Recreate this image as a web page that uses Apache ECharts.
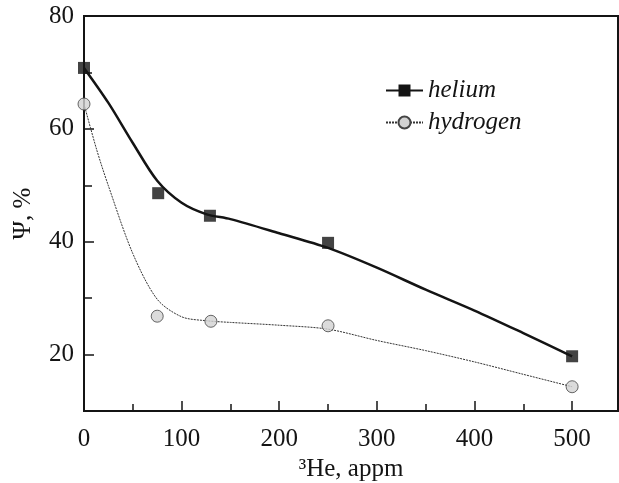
<!DOCTYPE html>
<html>
<head>
<meta charset="utf-8">
<script src="https://cdn.jsdelivr.net/npm/echarts@6/dist/echarts.min.js"></script>
<style>html,body{margin:0;padding:0;background:#fff}#c{width:619px;height:483px}</style>
</head>
<body>
<div id="c"></div>
<script>
// measured points
const heliumX = [0, 76, 129, 250, 500];
const heliumY = [70.8, 48.6, 44.6, 39.8, 19.7];
const hydrogenX = [0, 75, 130, 250, 500];
const hydrogenY = [64.4, 26.8, 25.9, 25.1, 14.3];
// fitted curves as drawn in the picture
const heliumCurveX = [0, 25, 50, 75, 100, 125, 150, 200, 250, 300, 350, 400, 450, 500];
const heliumCurveY = [70.8, 64.6, 57.5, 50.8, 46.9, 44.9, 44.0, 41.5, 38.9, 35.4, 31.5, 27.8, 23.8, 19.7];
const hydrogenCurveX = [0, 13, 25, 50, 75, 100, 125, 150, 200, 250, 300, 350, 400, 450, 500];
const hydrogenCurveY = [64.4, 56.3, 49.9, 37.9, 29.8, 26.7, 26.0, 25.7, 25.2, 24.5, 22.5, 20.7, 18.7, 16.5, 14.3];
const xMajorTicks = [0, 100, 200, 300, 400, 500];
const xMinorTicks = [50, 150, 250, 350, 450];
const yMajorTicks = [20, 40, 60, 80];
const yMinorTicks = [30, 50, 70];

const zip = (a, b) => a.map((v, i) => [v, b[i]]);
const FONT = 'Liberation Serif';
const INK = '#141414';

const chart = echarts.init(document.getElementById('c'), null, {renderer: 'canvas'});
chart.setOption({
  animation: false,
  backgroundColor: '#fff',
  grid: {left: 84, top: 16, right: 1, bottom: 72, outerBoundsMode: 'none', containLabel: false,
         show: true, borderColor: INK, borderWidth: 2, backgroundColor: 'transparent'},
  legend: {
    orient: 'vertical', left: 380, top: 73, itemGap: 7, itemWidth: 37, itemHeight: 15,
    data: ['helium', 'hydrogen'],
    textStyle: {fontFamily: FONT, fontStyle: 'italic', fontSize: 25, color: INK}
  },
  xAxis: [{
    type: 'value', min: 0, max: 547, position: 'bottom',
    name: '³He, appm', nameLocation: 'middle', nameGap: 43,
    nameTextStyle: {fontFamily: FONT, fontSize: 25, color: INK},
    axisLine: {lineStyle: {color: INK, width: 2}},
    axisTick: {inside: true, length: 10, customValues: xMajorTicks, lineStyle: {color: INK, width: 1.5}},
    axisLabel: {customValues: xMajorTicks, fontFamily: FONT, fontSize: 25, color: INK, margin: 16},
    splitLine: {show: false}
  }, {
    type: 'value', min: 0, max: 547, position: 'bottom', offset: 0,
    axisLine: {show: false},
    axisTick: {inside: true, length: 7, customValues: xMinorTicks, lineStyle: {color: INK, width: 1.5}},
    axisLabel: {show: false},
    splitLine: {show: false}
  }],
  yAxis: [{
    type: 'value', min: 10, max: 80, position: 'left',
    name: 'Ψ, %', nameLocation: 'middle', nameGap: 48,
    nameTextStyle: {fontFamily: FONT, fontSize: 25, color: INK},
    axisLine: {lineStyle: {color: INK, width: 2}},
    axisTick: {inside: true, length: 10, customValues: yMajorTicks, lineStyle: {color: INK, width: 1.5}},
    axisLabel: {customValues: yMajorTicks, fontFamily: FONT, fontSize: 25, color: INK, margin: 10},
    splitLine: {show: false}
  }, {
    type: 'value', min: 10, max: 80, position: 'left', offset: 0,
    axisLine: {show: false},
    axisTick: {inside: true, length: 8, customValues: yMinorTicks, lineStyle: {color: INK, width: 1.5}},
    axisLabel: {show: false},
    splitLine: {show: false}
  }],
  series: [
    {
      name: 'helium', type: 'line', smooth: 0.3, showSymbol: false,
      symbol: 'rect', itemStyle: {color: INK},
      lineStyle: {color: INK, width: 2.5},
      data: zip(heliumCurveX, heliumCurveY), z: 2
    },
    {
      name: 'hydrogen', type: 'line', smooth: 0.3, showSymbol: false,
      symbol: 'circle', itemStyle: {color: '#d2d2d2', borderColor: '#444', borderWidth: 1},
      lineStyle: {color: '#333', width: 1, type: [2, 1]},
      data: zip(hydrogenCurveX, hydrogenCurveY), z: 2
    },
    {
      name: 'helium pts', type: 'scatter', symbol: 'rect', symbolSize: 12,
      itemStyle: {color: INK}, data: zip(heliumX, heliumY), z: 5
    },
    {
      name: 'hydrogen pts', type: 'scatter', symbol: 'circle', symbolSize: 12,
      itemStyle: {color: '#d2d2d2', borderColor: '#444', borderWidth: 1},
      data: zip(hydrogenX, hydrogenY), z: 5
    }
  ]
});
</script>
</body>
</html>
